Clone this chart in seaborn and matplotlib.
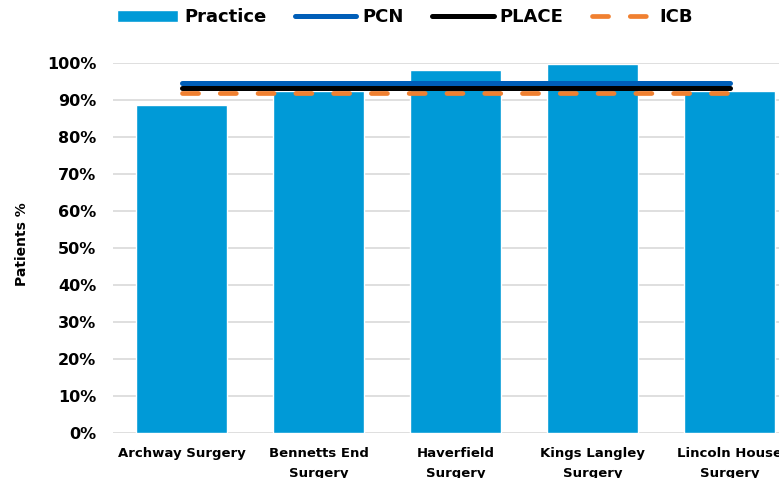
import matplotlib
matplotlib.use("Agg")
import numpy as np
import pandas as pd
import seaborn as sns
import matplotlib.pyplot as plt
from matplotlib.ticker import MultipleLocator, FuncFormatter

# chart data (percent of patients)
practices = ["Archway Surgery", "Bennetts End Surgery", "Haverfield Surgery",
             "Kings Langley Surgery", "Lincoln House Surgery"]
tick_labels = ["Archway Surgery", "Bennetts End\nSurgery", "Haverfield\nSurgery",
               "Kings Langley\nSurgery", "Lincoln House\nSurgery"]
practice_pct = [88.7, 92.3, 98.1, 99.7, 92.3]
pcn_pct = 94.6
place_pct = 93.2
icb_pct = 92.0

df = pd.DataFrame({"practice": practices, "value": practice_pct})
df["PCN"] = pcn_pct
df["PLACE"] = place_pct
df["ICB"] = icb_pct

sns.set_style("white")
plt.rcParams["font.family"] = ["DejaVu Sans"]
plt.rcParams["font.weight"] = "bold"
plt.rcParams["text.color"] = "black"
plt.rcParams["xtick.color"] = "black"
plt.rcParams["ytick.color"] = "black"
plt.rcParams["axes.labelcolor"] = "black"

fig = plt.figure(figsize=(7.79, 4.78), dpi=100)
# axes runs past the right edge, like the cropped original
ax = fig.add_axes([113 / 779, 45 / 478, 685 / 779, 370 / 478])

sns.barplot(data=df, x="practice", y="value", color="#009AD7", width=0.66,
            saturation=1, label="Practice", ax=ax, zorder=2)
sns.lineplot(data=df, x="practice", y="PCN", color="#005EB8", lw=3.6,
             solid_capstyle="round", sort=False, label="PCN", ax=ax, zorder=3)
sns.lineplot(data=df, x="practice", y="PLACE", color="black", lw=3.6,
             solid_capstyle="round", sort=False, label="PLACE", ax=ax, zorder=4)
sns.lineplot(data=df, x="practice", y="ICB", color="#F08030", lw=3.4,
             dashes=False, sort=False, label="ICB", ax=ax, zorder=5)
icb_line = ax.get_lines()[-1]
icb_line.set_dashes([3.4, 4.6])
icb_line.set_dash_capstyle("round")

ax.set_ylim(0, 100)
ax.set_xlim(-0.5, 4.5)
ax.yaxis.set_major_locator(MultipleLocator(10))
ax.yaxis.set_major_formatter(FuncFormatter(lambda v, p: f"{v:.0f}%"))
ax.yaxis.grid(True, color="#D9D9D9", lw=1.2)
ax.set_axisbelow(True)
for s in ax.spines.values():
    s.set_visible(False)

ax.set_xticks(range(len(tick_labels)))
ax.set_xticklabels(tick_labels, fontsize=9.5, fontweight="bold", linespacing=1.75)
ax.tick_params(axis="x", length=0, pad=10)
ax.tick_params(axis="y", length=0, pad=12, labelsize=11.5)
for t in ax.get_yticklabels():
    t.set_fontweight("bold")

ax.set_xlabel("")
ax.set_ylabel("Patients %", fontsize=10, fontweight="bold")
ax.yaxis.set_label_coords(-0.122, 0.511)

handles, labels = ax.get_legend_handles_labels()
if ax.get_legend() is not None:
    ax.get_legend().remove()
order = [labels.index(n) for n in ["Practice", "PCN", "PLACE", "ICB"]]
fig.legend([handles[i] for i in order], [labels[i] for i in order],
           loc="center", bbox_to_anchor=(405 / 779, 0.964),
           ncol=4, frameon=False, handlelength=3.4,
           handletextpad=0.35, columnspacing=1.55,
           prop={"weight": "bold", "size": 13})

fig.savefig("out.png", dpi=100)
